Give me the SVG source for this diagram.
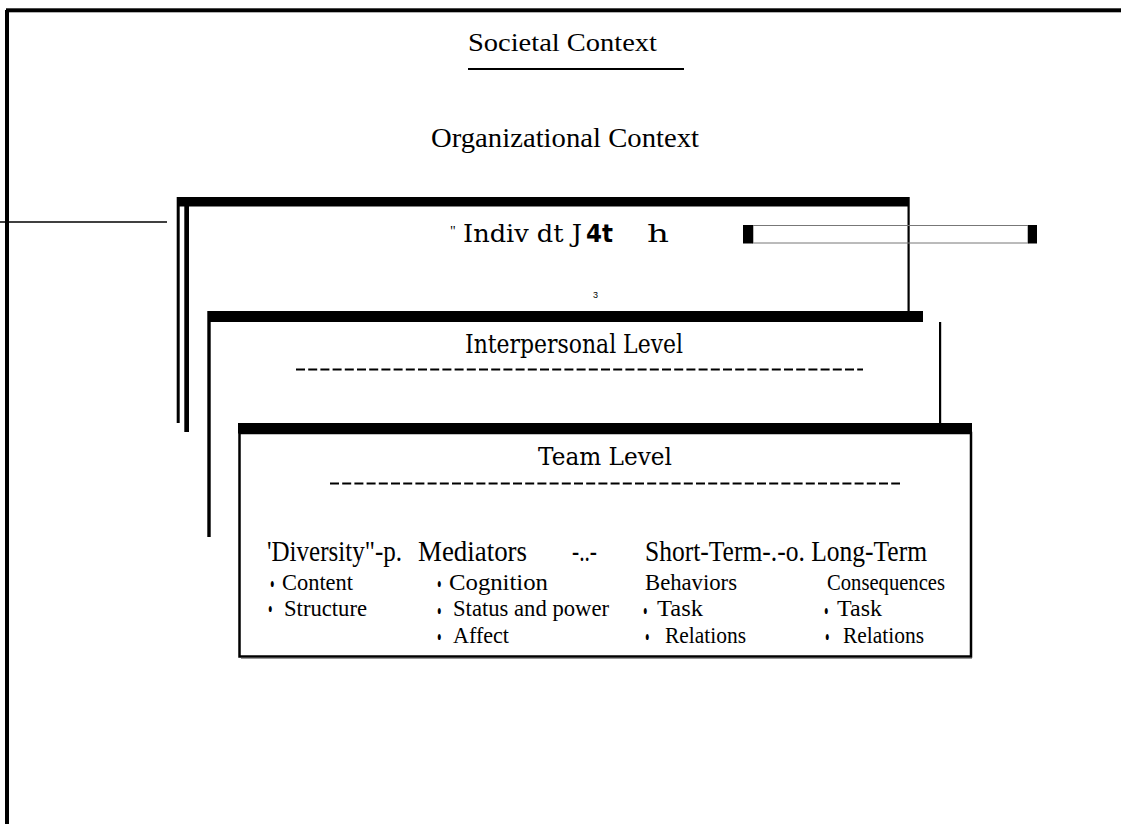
<svg xmlns="http://www.w3.org/2000/svg" width="1121" height="824" viewBox="0 0 1121 824">
<style>
.ser{font-family:"Liberation Serif","Times New Roman",serif;fill:#000}
.slab{font-family:"DejaVu Serif","Liberation Serif",serif;fill:#000}
.bold{font-family:"DejaVu Sans","Liberation Sans",sans-serif;font-weight:bold;fill:#000}
.sans{font-family:"Liberation Sans","Arial",sans-serif;fill:#000}
.blk{fill:#000}
.dash{stroke:#000;stroke-width:2.2;stroke-dasharray:9 3.2;fill:none}
.b{font-size:25px}
</style>
<rect width="1121" height="824" fill="#fff"/>
<g id="frame">
<rect class="blk" x="5" y="10" width="4" height="814"/>
<rect class="blk" x="6" y="8.3" width="1115" height="4"/>
</g>
<g id="societal">
<text class="ser" x="468" y="50.5" font-size="25" textLength="189" lengthAdjust="spacingAndGlyphs">Societal Context</text>
<rect class="blk" x="468" y="68" width="216" height="2"/>
</g>
<g id="organizational">
<text class="ser" x="431" y="147" font-size="28" textLength="268" lengthAdjust="spacingAndGlyphs">Organizational Context</text>
</g>
<g id="individual">
<rect class="blk" x="177" y="197" width="732" height="9.5"/>
<rect class="blk" x="176.7" y="197" width="3" height="226"/>
<rect class="blk" x="184.3" y="206" width="4.7" height="226"/>
<rect class="blk" x="907.5" y="197" width="2.2" height="114"/>
<text class="ser" x="450" y="236" font-size="14">"</text>
<text class="slab" x="463" y="242" font-size="24" textLength="119" lengthAdjust="spacingAndGlyphs">Indiv dt J</text>
<text class="bold" x="586" y="242" font-size="24" textLength="27" lengthAdjust="spacingAndGlyphs">4t</text>
<text class="slab" x="647" y="242" font-size="24" textLength="22" lengthAdjust="spacingAndGlyphs">h</text>
<text class="sans" x="593" y="298" font-size="9">3</text>
</g>
<g id="interpersonal">
<rect class="blk" x="208" y="311" width="715" height="11"/>
<rect class="blk" x="207.3" y="311" width="3.4" height="226"/>
<rect class="blk" x="939" y="322" width="2.2" height="101"/>
<text class="slab" x="465" y="353" font-size="26" textLength="218" lengthAdjust="spacingAndGlyphs">Interpersonal Level</text>
<line class="dash" x1="296" y1="369.5" x2="863" y2="369.5"/>
</g>
<g id="team">
<rect x="239.5" y="433" width="731.5" height="223.5" fill="#fff" stroke="#000" stroke-width="2.5"/>
<line x1="241" y1="658.5" x2="972" y2="658.5" stroke="#999" stroke-width="1"/>
<rect class="blk" x="238" y="423" width="734" height="10.5"/>
<text class="slab" x="538" y="465" font-size="25" textLength="134" lengthAdjust="spacingAndGlyphs">Team Level</text>
<line class="dash" x1="330" y1="483.5" x2="900" y2="483.5"/>
<text class="ser" y="561" font-size="29">
<tspan x="267" textLength="135" lengthAdjust="spacingAndGlyphs">'Diversity"-p.</tspan>
<tspan x="418" textLength="109" lengthAdjust="spacingAndGlyphs">Mediators</tspan>
<tspan x="572" textLength="25" lengthAdjust="spacingAndGlyphs">-..-</tspan>
<tspan x="645" textLength="282" lengthAdjust="spacingAndGlyphs">Short-Term-.-o. Long-Term</tspan>
</text>
<g class="ser" font-size="24">
<text y="589.5"><tspan class="b" x="270" dy="3.5" textLength="4.5" lengthAdjust="spacingAndGlyphs">•</tspan><tspan x="282" dy="-3.5" textLength="71" lengthAdjust="spacingAndGlyphs">Content</tspan></text>
<text y="616"><tspan class="b" x="268" dy="2" textLength="4.5" lengthAdjust="spacingAndGlyphs">•</tspan><tspan x="284" dy="-2" textLength="83" lengthAdjust="spacingAndGlyphs">Structure</tspan></text>
<text y="589.5"><tspan class="b" x="437" dy="3.5" textLength="4.5" lengthAdjust="spacingAndGlyphs">•</tspan><tspan x="449" dy="-3.5" textLength="99" lengthAdjust="spacingAndGlyphs">Cognition</tspan></text>
<text y="616"><tspan class="b" x="437" dy="3.5" textLength="4.5" lengthAdjust="spacingAndGlyphs">•</tspan><tspan x="453" dy="-3.5" textLength="156" lengthAdjust="spacingAndGlyphs">Status and power</tspan></text>
<text y="642.5"><tspan class="b" x="437" dy="3.5" textLength="4.5" lengthAdjust="spacingAndGlyphs">•</tspan><tspan x="453" dy="-3.5" textLength="56" lengthAdjust="spacingAndGlyphs">Affect</tspan></text>
<text x="645" y="589.5" textLength="92" lengthAdjust="spacingAndGlyphs">Behaviors</text>
<text y="616"><tspan class="b" x="643" dy="3.5" textLength="4.5" lengthAdjust="spacingAndGlyphs">•</tspan><tspan x="657" dy="-3.5" textLength="46" lengthAdjust="spacingAndGlyphs">Task</tspan></text>
<text y="642.5"><tspan class="b" x="645" dy="3.5" textLength="4.5" lengthAdjust="spacingAndGlyphs">•</tspan><tspan x="665" dy="-3.5" textLength="81" lengthAdjust="spacingAndGlyphs">Relations</tspan></text>
<text x="827" y="589.5" textLength="118" lengthAdjust="spacingAndGlyphs">Consequences</text>
<text y="616"><tspan class="b" x="824" dy="3.5" textLength="4.5" lengthAdjust="spacingAndGlyphs">•</tspan><tspan x="837" dy="-3.5" textLength="45" lengthAdjust="spacingAndGlyphs">Task</tspan></text>
<text y="642.5"><tspan class="b" x="825" dy="3.5" textLength="4.5" lengthAdjust="spacingAndGlyphs">•</tspan><tspan x="843" dy="-3.5" textLength="81" lengthAdjust="spacingAndGlyphs">Relations</tspan></text>
</g>
</g>
<g id="connectors">
<line x1="0" y1="222" x2="167" y2="222" stroke="#000" stroke-width="1.5"/>
<rect x="753" y="225.5" width="275" height="17.5" fill="none" stroke="#777" stroke-width="1"/>
<rect class="blk" x="743" y="225" width="10" height="18.5"/>
<rect class="blk" x="1028" y="225" width="9" height="18.5"/>
</g>
</svg>
